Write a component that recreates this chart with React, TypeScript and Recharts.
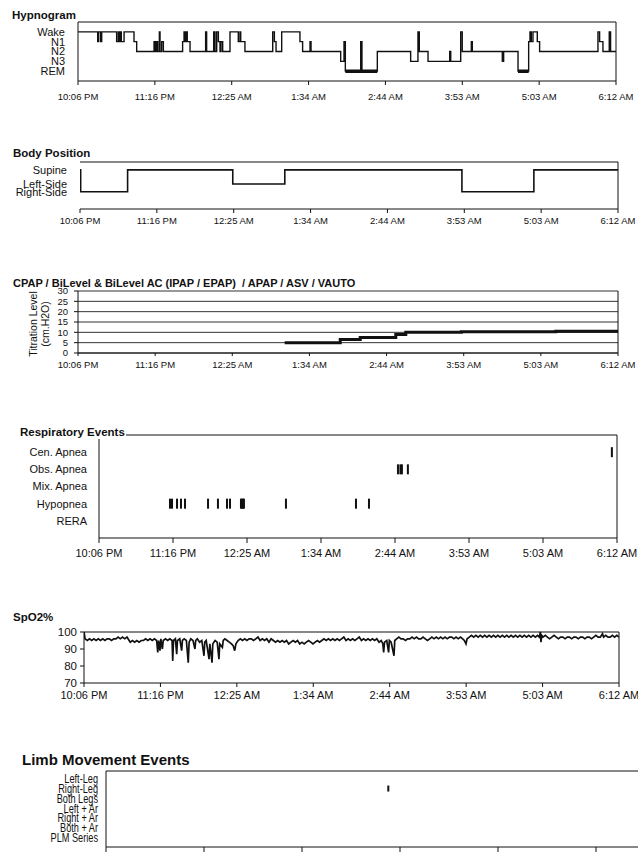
import React from 'react';
import { LineChart, Line, ScatterChart, Scatter, XAxis, YAxis, CartesianGrid, ReferenceLine } from 'recharts';

const FONT = '"Liberation Sans", Arial, Helvetica, sans-serif';
const INK = '#111';

// all times are minutes after lights-off (10:06 PM)
const TIME_LABELS = ['10:06 PM', '11:16 PM', '12:25 AM', '1:34 AM', '2:44 AM', '3:53 AM', '5:03 AM', '6:12 AM'];
const STUDY_MINUTES = 486;
const TIME_TICKS = TIME_LABELS.map((_, i) => (i * STUDY_MINUTES) / (TIME_LABELS.length - 1));
const timeLabel = (v: number) => TIME_LABELS[TIME_TICKS.findIndex((t) => Math.abs(t - v) < 1)] ?? '';

// ---- hypnogram
const STAGES = ['REM', 'N3', 'N2', 'N1', 'Wake'];
const HYPNOGRAM: [number, string][] = [
    [0, 'Wake'], [17.8, 'N1'], [18.7, 'Wake'], [20.5, 'N1'], [21.4, 'Wake'], [34.9, 'N1'], [36.4, 'Wake'],
    [37.3, 'N1'], [38.5, 'Wake'], [39.1, 'N1'], [41.6, 'Wake'], [50.6, 'N1'], [53, 'N2'], [68.7, 'N1'],
    [69.9, 'N2'], [71.1, 'N1'], [72, 'N2'], [73.5, 'Wake'], [74.1, 'N2'], [75.6, 'N1'], [77.1, 'N2'],
    [94.5, 'N1'], [95.8, 'Wake'], [96.9, 'N1'], [97.8, 'Wake'], [98.7, 'N1'], [101.2, 'N2'], [115.3, 'Wake'],
    [116.2, 'N2'], [122.6, 'Wake'], [123.8, 'N2'], [125.3, 'Wake'], [126.8, 'N1'], [128.3, 'N2'], [129.2, 'N1'],
    [130.7, 'N2'], [137.3, 'Wake'], [144.8, 'N1'], [146.3, 'Wake'], [147, 'N1'], [150.8, 'N2'], [175.9, 'Wake'],
    [177.4, 'N1'], [178.9, 'N2'], [184, 'Wake'], [200.5, 'N1'], [202.9, 'N2'], [209.6, 'N1'], [210.5, 'N2'],
    [237.3, 'N3'], [240.3, 'N1'], [241.5, 'REM'], [255.4, 'N1'], [256.5, 'REM'], [270.4, 'N2'], [300.5, 'N3'],
    [307.1, 'Wake'], [308.3, 'N2'], [316.2, 'N3'], [335.8, 'N2'], [336.7, 'N3'], [345.7, 'Wake'], [347.1, 'N2'],
    [355.3, 'N1'], [356.2, 'N2'], [383.3, 'N3'], [384.5, 'N2'], [397.5, 'REM'], [407.1, 'N1'], [408.3, 'Wake'],
    [409.5, 'N1'], [411, 'Wake'], [414.9, 'N1'], [417, 'N2'], [469.7, 'Wake'], [471.2, 'N1'], [474.2, 'N2'],
    [479.9, 'Wake'], [481.1, 'N2'], [486, 'N2'],
];

// ---- body position
const POSITION_LEVEL: Record<string, number> = { 'Right-Side': 2.2, 'Left-Side': 3.2, Supine: 5 };
const BODY_POSITION: [number, string][] = [
    [0, 'Supine'], [0.6, 'Right-Side'], [43, 'Supine'], [138, 'Left-Side'], [185, 'Supine'],
    [345, 'Right-Side'], [410, 'Supine'], [486, 'Supine'],
];

// ---- titration (cm H2O)
const PRESSURE_TICKS = [0, 5, 10, 15, 20, 25, 30];
const TITRATION: [number, number][] = [
    [186, 5], [236, 6.5], [254, 7.5], [286, 9], [295, 10], [345, 10.3], [430, 10.5], [486, 10.5],
];

// ---- respiratory events
const RESP_TYPES = ['RERA', 'Hypopnea', 'Mix. Apnea', 'Obs. Apnea', 'Cen. Apnea'];
const CEN_APNEA = [481.2];
const OBS_APNEA = [280.5, 282.8, 284.2, 289.8];
const MIX_APNEA: number[] = [];
const HYPOPNEA = [66.6, 68.5, 73.2, 76.9, 80.7, 102.3, 111.6, 120.1, 122.9, 133.2, 134.1, 135.1, 136, 175.4, 241.1, 253.3];
const RERA: number[] = [];

// ---- SpO2 %
const SPO2_TICKS = [70, 80, 90, 100];
const SPO2: [number, number][] = [
    [0, 100], [1, 96], [3, 95], [5, 96], [7, 95], [9, 96], [11, 95], [13, 96], [15, 95], [17, 96], [19, 95], [21, 96],
    [23, 96], [25, 95], [27, 96], [29, 96], [31, 97], [33, 96], [35, 97], [37, 96], [39, 97], [41, 95], [42, 94],
    [44, 95], [46, 94], [48, 95], [50, 94], [52, 95], [54, 95], [56, 96], [58, 95], [60, 96], [62, 95], [64, 96],
    [66, 95], [67, 88], [67.8, 95], [69, 89], [69.8, 96], [71.2, 90], [72, 95], [74, 96], [76, 95], [78, 96], [80, 95],
    [80.6, 83], [81.3, 95], [83, 96], [84.2, 87], [84.9, 95], [87, 96], [88.7, 89], [89.4, 95], [91, 96], [93, 95],
    [94.7, 82], [95.5, 94], [97, 96], [99, 95], [100.8, 90], [101.5, 95], [103, 96], [105, 94], [107, 95], [109, 86],
    [109.7, 94], [111, 95], [113.6, 84], [114.3, 93], [116.3, 82], [117, 93], [119, 95], [121, 94], [122.6, 84],
    [123.3, 93], [125.7, 91], [126.5, 95], [128, 96], [130, 95], [132, 94], [134, 93], [135.5, 92], [136.9, 89],
    [138, 93], [140, 95], [142, 96], [144, 95], [146, 96], [148, 95], [150, 96], [152, 96], [154, 95], [156, 96],
    [158, 97], [160, 95], [162, 96], [164, 95], [166, 96], [168, 94], [170, 96], [172, 95], [174, 94], [176, 95],
    [178, 94], [180, 95], [182, 94], [184, 95], [186, 93], [188, 94], [190, 95], [192, 94], [194, 95], [196, 93],
    [198, 94], [200, 93], [202, 94], [204, 95], [206, 94], [208, 93], [210, 94], [212, 95], [214, 94], [216, 95],
    [218, 96], [220, 95], [222, 96], [224, 95], [226, 96], [228, 95], [230, 96], [232, 95], [234, 96], [236, 97],
    [238, 95], [240, 96], [242, 95], [244, 96], [246, 95], [248, 96], [250, 97], [252, 95], [254, 96], [256, 95],
    [258, 96], [260, 95], [262, 96], [264, 95], [266, 96], [268, 94], [270, 95], [271.5, 93], [272.2, 88], [273, 94],
    [275, 95], [276.7, 88], [277.4, 95], [279, 94], [281.6, 86], [282.3, 95], [284, 96], [286, 97], [288, 96],
    [290, 96], [292, 95], [294, 96], [296, 96], [298, 97], [300, 96], [302, 97], [304, 96], [306, 96], [308, 97],
    [310, 96], [312, 95], [314, 96], [316, 97], [318, 96], [320, 97], [322, 96], [324, 97], [326, 96], [328, 97],
    [330, 96], [332, 97], [334, 97], [336, 96], [338, 97], [340, 96], [342, 97], [344, 96], [345.5, 95], [347, 93],
    [348, 96], [350, 97], [352, 98], [354, 97], [356, 98], [358, 97], [360, 98], [362, 97], [364, 98], [366, 97],
    [368, 98], [370, 97], [372, 98], [374, 97], [376, 98], [378, 97], [380, 98], [382, 97], [384, 98], [386, 97],
    [388, 98], [390, 97], [392, 98], [394, 97], [396, 98], [398, 97], [400, 98], [402, 97], [404, 98], [406, 97],
    [408, 98], [410, 97], [412, 98], [413.5, 97], [414.6, 100], [415.1, 94], [415.8, 98], [417, 97], [419, 98],
    [421, 97], [423, 96], [425, 97], [427, 98], [429, 97], [431, 96], [433, 97], [435, 97], [437, 96], [439, 97],
    [441, 97], [443, 96], [445, 97], [447, 97], [449, 96], [451, 97], [453, 97], [455, 96], [457, 97], [459, 97],
    [461, 96], [463, 97], [465, 98], [467, 97], [469, 97], [471, 99], [472, 97], [474, 98], [476, 97], [478, 97],
    [480, 98], [482, 97], [484, 98], [486, 97],
];

// ---- limb movements
const LIMB_TYPES = ['PLM Series', 'Both + Ar', 'Right + Ar', 'Left + Ar', 'Both Legs', 'Right-Leg', 'Left-Leg'];
const LIMB_EVENTS: [number, string][] = [[200, 'Right-Leg']];

const hypnoData = HYPNOGRAM.map(([t, s]) => ({ t, stage: STAGES.indexOf(s) }));
// REM periods get a heavier pen, like the printed report
const remData = hypnoData.map((d, i) => ({
    t: d.t,
    rem: d.stage === 0 || (i > 0 && hypnoData[i - 1].stage === 0) ? 0 : null,
}));
const bodyData = BODY_POSITION.map(([t, p]) => ({ t, level: POSITION_LEVEL[p] }));
const titrationData = TITRATION.map(([t, p]) => ({ t, p }));
const spo2Data = SPO2.map(([t, v]) => ({ t, v }));
const respData = [RERA, HYPOPNEA, MIX_APNEA, OBS_APNEA, CEN_APNEA].flatMap((times, i) =>
    times.map((t) => ({ t, level: i + 1 })),
);
const limbData = LIMB_EVENTS.map(([t, type]) => ({ t, level: LIMB_TYPES.indexOf(type) + 1 }));

const EventMark = (h: number) => (props: any) => (
    <rect x={props.cx - 1} y={props.cy - h / 2} width={2} height={h} fill={INK} />
);

// the report prints these in a narrow face
const LimbTick = ({ x, y, payload }: any) => (
    <text transform={`translate(${x},${y}) scale(0.68,1)`} textAnchor="end" dominantBaseline="central"
        fontSize={13.5} fill={INK} fontFamily={FONT}>
        {LIMB_TYPES[payload.value - 1]}
    </text>
);

const Title: React.FC<{ left: number; cy: number; size: number; bg?: boolean; children: React.ReactNode }> = ({ left, cy, size, bg, children }) => (
    <div style={{
        position: 'absolute', left, top: cy - size * 0.52, fontSize: size, lineHeight: `${size}px`,
        fontWeight: 'bold', color: INK, whiteSpace: 'nowrap', background: bg ? '#fff' : undefined, paddingRight: bg ? 1 : 0,
    }}>
        {children}
    </div>
);

const tickFont = (size: number) => ({ fontSize: size, fill: INK, fontFamily: FONT });
const noAnim = { isAnimationActive: false };

export default function App() {
    const xAxisCommon = {
        dataKey: 't', type: 'number' as const, domain: [0, STUDY_MINUTES], ticks: TIME_TICKS, interval: 0 as const,
        tickFormatter: timeLabel, stroke: INK, allowDataOverflow: true,
    };
    return (
        <div style={{ position: 'fixed', left: 0, top: 0, width: 638, height: 853, overflow: 'hidden', background: '#fff', fontFamily: FONT }}>
            {/* Hypnogram */}
            <div style={{ position: 'absolute', left: 0, top: 0 }}>
                <LineChart width={638} height={111} margin={{ top: 22, right: 22, bottom: 0, left: 0 }}>
                    <XAxis {...xAxisCommon} height={30} tickSize={4} tickMargin={8.6} tick={tickFont(9.5)} />
                    <YAxis type="number" domain={[-1, 5]} ticks={[0, 1, 2, 3, 4]} interval={0} width={78}
                        tickFormatter={(v: number) => STAGES[v]} tickLine={false} tickSize={6} tickMargin={7}
                        stroke={INK} tick={tickFont(11)} />
                    <ReferenceLine y={5} stroke={INK} />
                    <ReferenceLine x={STUDY_MINUTES} stroke={INK} />
                    <Line data={hypnoData} dataKey="stage" type="stepAfter" stroke={INK} strokeWidth={1.4} dot={false} {...noAnim} />
                    <Line data={remData} dataKey="rem" type="stepAfter" stroke={INK} strokeWidth={3.5} dot={false} {...noAnim} />
                </LineChart>
            </div>

            {/* Body position */}
            <div style={{ position: 'absolute', left: 0, top: 140 }}>
                <LineChart width={638} height={94} margin={{ top: 22, right: 20, bottom: 0, left: 0 }}>
                    <XAxis {...xAxisCommon} height={25} tickSize={4} tickMargin={4.6} tick={tickFont(9.5)} />
                    <YAxis type="number" domain={[0, 6]} ticks={[2.2, 3.2, 5]} interval={0} width={80}
                        tickFormatter={(v: number) => Object.keys(POSITION_LEVEL).find((k) => POSITION_LEVEL[k] === v) ?? ''}
                        axisLine={false} tickLine={false} tickSize={6} tickMargin={7} tick={tickFont(11)} />
                    <ReferenceLine y={6} stroke={INK} />
                    <ReferenceLine x={STUDY_MINUTES} stroke={INK} />
                    <Line data={bodyData} dataKey="level" type="stepAfter" stroke={INK} strokeWidth={1.6} dot={false} {...noAnim} />
                </LineChart>
            </div>

            {/* Titration */}
            <div style={{ position: 'absolute', left: 0, top: 280 }}>
                <LineChart width={638} height={98} margin={{ top: 11, right: 20, bottom: 0, left: 0 }}>
                    <CartesianGrid vertical={false} stroke="#333" />
                    <XAxis {...xAxisCommon} height={25} tickSize={3} tickMargin={5.6} tick={tickFont(9.5)} />
                    <YAxis type="number" domain={[0, 30]} ticks={PRESSURE_TICKS} interval={0} width={78}
                        tickSize={4} tickMargin={6} stroke={INK} tick={tickFont(9.5)} />
                    <ReferenceLine x={STUDY_MINUTES} stroke={INK} />
                    <Line data={titrationData} dataKey="p" type="stepAfter" stroke={INK} strokeWidth={3} dot={false} {...noAnim} />
                </LineChart>
            </div>
            <svg width={60} height={80} style={{ position: 'absolute', left: 0, top: 284 }}>
                <text transform="translate(33,40) rotate(-90)" textAnchor="middle" dominantBaseline="central" fontSize={10.5} fill={INK} fontFamily={FONT}>Titration Level</text>
                <text transform="translate(45,40) rotate(-90)" textAnchor="middle" dominantBaseline="central" fontSize={10.5} fill={INK} fontFamily={FONT}>(cm.H2O)</text>
            </svg>

            {/* Respiratory events */}
            <div style={{ position: 'absolute', left: 0, top: 420 }}>
                <ScatterChart width={638} height={146} margin={{ top: 15, right: 21, bottom: 0, left: 0 }}>
                    <XAxis {...xAxisCommon} height={28} tickSize={5} tickMargin={6} tick={tickFont(11)} />
                    <YAxis dataKey="level" type="number" domain={[0, 6]} ticks={[1, 2, 3, 4, 5]} interval={0} width={99}
                        tickFormatter={(v: number) => RESP_TYPES[v - 1]} tickLine={false} tickSize={6} tickMargin={6}
                        stroke={INK} tick={tickFont(11)} />
                    <ReferenceLine y={6} stroke={INK} />
                    <ReferenceLine x={STUDY_MINUTES} stroke={INK} />
                    <Scatter data={respData} fill={INK} shape={EventMark(10)} {...noAnim} />
                </ScatterChart>
            </div>

            {/* SpO2 */}
            <div style={{ position: 'absolute', left: 0, top: 620 }}>
                <LineChart width={638} height={88} margin={{ top: 12, right: 19, bottom: 0, left: 0 }}>
                    <XAxis {...xAxisCommon} height={25} tickSize={4} tickMargin={4} tick={tickFont(11)} />
                    <YAxis type="number" domain={[70, 100]} ticks={SPO2_TICKS} interval={0} width={84}
                        tickSize={4} tickMargin={3} stroke={INK} tick={tickFont(11.5)} />
                    <ReferenceLine y={100} stroke={INK} />
                    <ReferenceLine x={STUDY_MINUTES} stroke={INK} />
                    <Line data={spo2Data} dataKey="v" type="linear" stroke={INK} strokeWidth={1.7} dot={false} {...noAnim} />
                </LineChart>
            </div>

            {/* Limb movements (report page cuts off below) */}
            <div style={{ position: 'absolute', left: 0, top: 765 }}>
                <ScatterChart width={800} height={107} margin={{ top: 6, right: 8, bottom: 0, left: 0 }}>
                    <XAxis {...xAxisCommon} height={25} tickSize={5} tickMargin={6} tick={tickFont(11)} />
                    <YAxis dataKey="level" type="number" domain={[0, 7.8]} ticks={[1, 2, 3, 4, 5, 6, 7]} interval={0} width={106}
                        tickLine={false} tickSize={4} tickMargin={4} stroke={INK} tick={<LimbTick />} />
                    <ReferenceLine y={7.8} stroke={INK} />
                    <Scatter data={limbData} fill={INK} shape={EventMark(6)} {...noAnim} />
                </ScatterChart>
            </div>

            <Title left={12} cy={15.7} size={11.5}>Hypnogram</Title>
            <Title left={13} cy={154} size={11.5}>Body Position</Title>
            <Title left={13} cy={284} size={11}>CPAP / BiLevel &amp; BiLevel AC (IPAP / EPAP)&nbsp; / APAP / ASV / VAUTO</Title>
            <Title left={20} cy={433} size={11.5} bg>Respiratory Events</Title>
            <Title left={13} cy={618} size={11.5}>SpO2%</Title>
            <Title left={22} cy={760} size={15}>Limb Movement Events</Title>
        </div>
    );
}
